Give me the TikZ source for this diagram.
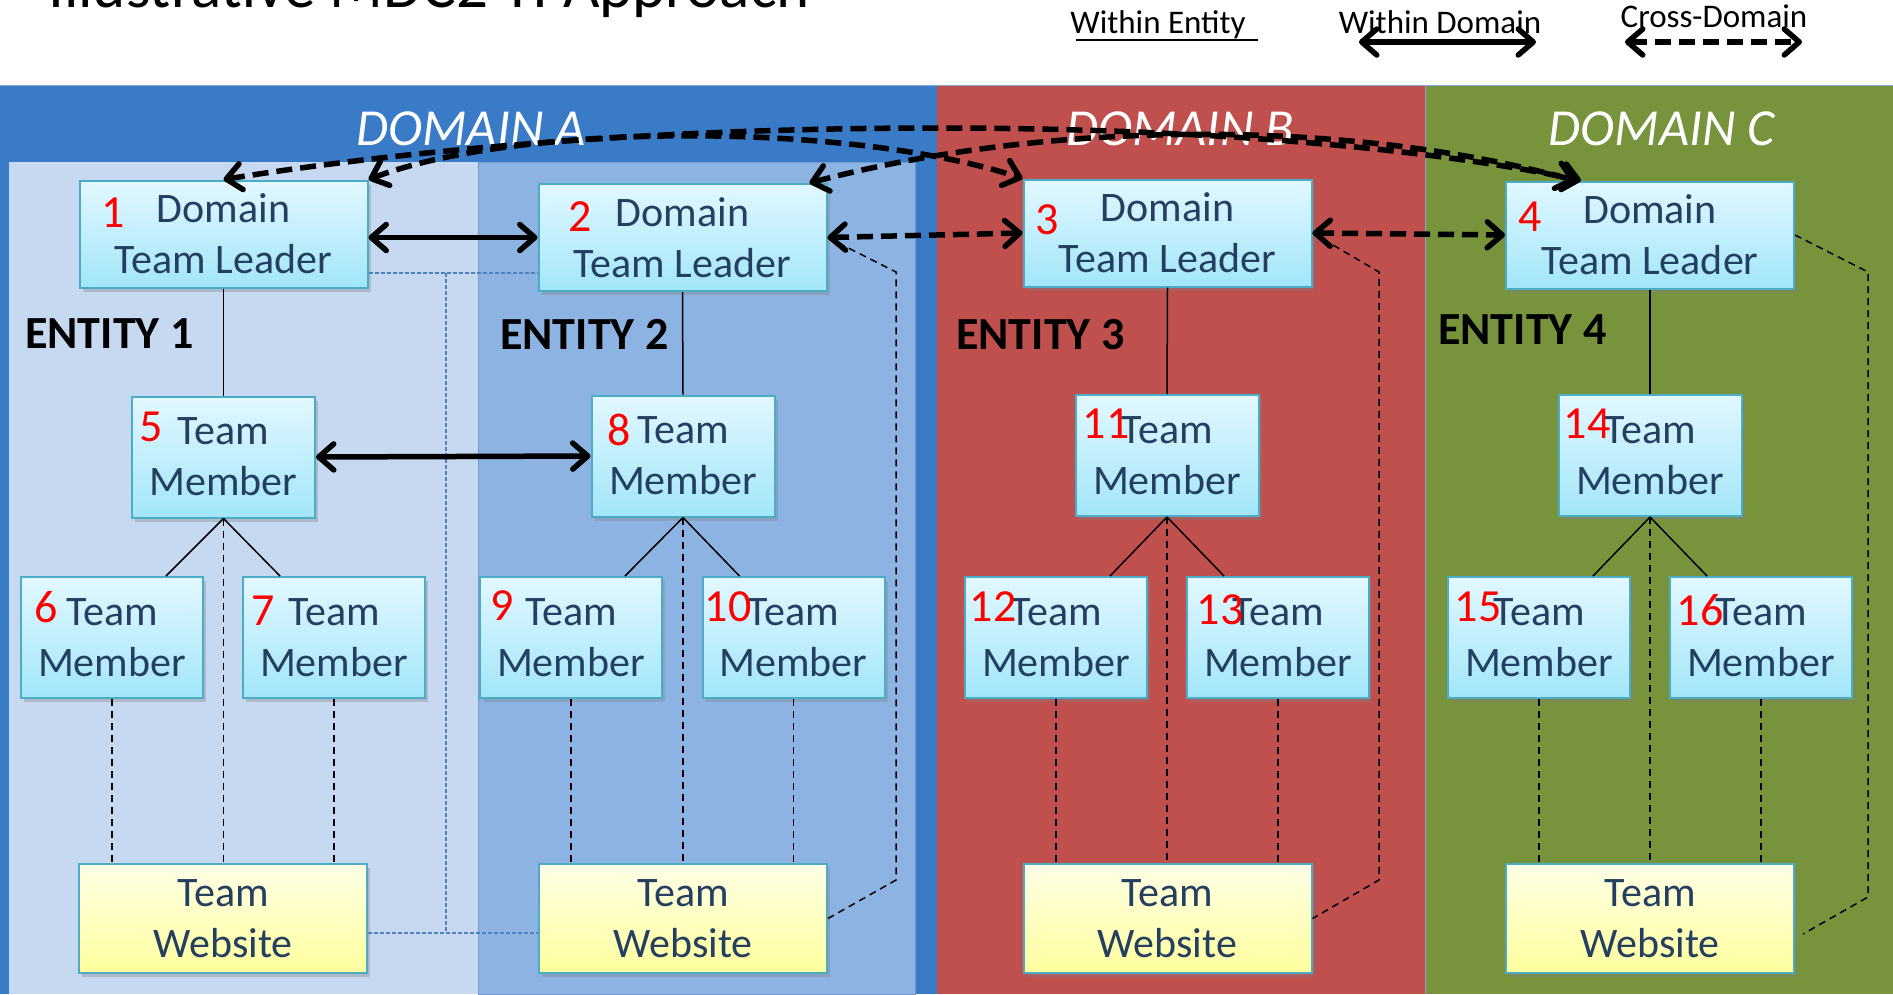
\documentclass[tikz,border=0pt]{standalone}
\usepackage{fontspec}
\setmainfont{Carlito}
\usetikzlibrary{arrows.meta,shadows}
\definecolor{domA}{HTML}{3A7BC8}
\definecolor{domB}{HTML}{C0504D}
\definecolor{domC}{HTML}{77933C}
\definecolor{entA}{HTML}{C6D9F1}
\definecolor{entB}{HTML}{8DB3E2}
\definecolor{boxborder}{HTML}{4BACC6}
\definecolor{boxtop}{HTML}{E2F8FF}
\definecolor{boxbot}{HTML}{A2E6FA}
\definecolor{sitetop}{HTML}{FFFFE6}
\definecolor{sitebot}{HTML}{FFFF9E}
\definecolor{boxtext}{HTML}{243F60}
\definecolor{hline}{HTML}{4F81BD}
\tikzset{
  box/.style={draw=boxborder, line width=2pt, top color=boxtop, bottom color=boxbot,
    text=boxtext, font=\fontsize{42}{51}\selectfont, align=center, inner sep=0pt,
    drop shadow={shadow xshift=3pt,shadow yshift=-4pt,opacity=.35}},
  leader/.style={box, minimum width=288pt, minimum height=107pt},
  member/.style={box, minimum width=182pt, minimum height=121pt},
  site/.style={box, top color=sitetop, bottom color=sitebot, minimum width=288pt, minimum height=109pt},
  num/.style={text=red, font=\fontsize{46}{46}\selectfont, inner sep=0pt},
  entity/.style={font=\bfseries\fontsize{46}{46}\selectfont, anchor=west, inner sep=0pt},
  dom/.style={text=white, font=\itshape\fontsize{52}{52}\selectfont, inner sep=0pt},
  legend/.style={font=\fontsize{33}{33}\selectfont, inner sep=0pt, anchor=base},
  tree/.style={line width=1.5pt},
  webline/.style={line width=1.5pt, dash pattern=on 7pt off 5pt},
  blueline/.style={draw=hline, line width=1.5pt, dash pattern=on 4pt off 2pt},
  solidarr/.style={line width=5.5pt, {Straight Barb[length=15pt,width=26pt,round]}-{Straight Barb[length=15pt,width=26pt,round]}},
  dasharr/.style={line width=5.5pt, dash pattern=on 16pt off 8pt, {Straight Barb[length=15pt,width=26pt,round]}-{Straight Barb[length=15pt,width=26pt,round]}}
}
\begin{document}
\begin{tikzpicture}[x=1pt,y=-1pt]
\useasboundingbox (0,0) rectangle (1893,994);
% backgrounds
\fill[white] (0,0) rectangle (1893,994);
\fill[domA] (0,85) rectangle (937,994);
\fill[entA] (8.6,162) rectangle (478,994);
\filldraw[fill=entB, draw=hline!80, line width=1pt] (478,162) rectangle (915,994);
\fill[domB] (937,85) rectangle (1425,994);
\fill[domC] (1425,85) rectangle (1893,994);
\draw[hline!70, line width=1pt] (0,85) -- (1893,85);
\draw[hline!70, line width=1pt] (1425,85) -- (1425,994);
% title and legend
\node[anchor=base west, font=\fontsize{63}{63}\selectfont, inner sep=0pt] (title) at (48,7) {Illustrative MDC2 TI Approach};
\node[legend] (lgE) at (1158,33) {Within Entity};
\node[legend] (lgD) at (1440,33) {Within Domain};
\node[legend] (lgC) at (1714,27) {Cross-Domain};
\coordinate (leA) at (1076,40); \coordinate (leB) at (1258,40);
\coordinate (ldA) at (1359,42); \coordinate (ldB) at (1536,42);
\coordinate (lcA) at (1625,42); \coordinate (lcB) at (1802,42);
\draw[line width=2pt] (leA) -- (leB);
\draw[solidarr] (ldA) -- (ldB);
\draw[dasharr] (lcA) -- (lcB);
% domain labels
\node[dom] (dA) at (471,129) {DOMAIN A};
\node[dom] (dB) at (1180,129) {DOMAIN B};
\node[dom] (dC) at (1662,129) {DOMAIN C};
% entity labels
\node[entity] (e1) at (25,334) {ENTITY 1};
\node[entity] (e2) at (500,334) {ENTITY 2};
\node[entity] (e3) at (956,335) {ENTITY 3};
\node[entity] (e4) at (1438,330) {ENTITY 4};
% nodes
\node[leader] (L1) at (223.5,234) {Domain\\Team Leader};
\node[leader] (L2) at (682.5,237.5) {Domain\\Team Leader};
\node[leader] (L3) at (1167.5,233) {Domain\\Team Leader};
\node[leader] (L4) at (1650,235) {Domain\\Team Leader};
\node[member, minimum width=183pt] (M5) at (223.5,457) {Team\\Member};
\node[member, minimum width=183pt] (M8) at (683,456) {Team\\Member};
\node[member, minimum width=183pt] (M11) at (1167,455.5) {Team\\Member};
\node[member, minimum width=183pt] (M14) at (1650,455.5) {Team\\Member};
\node[member] (M6) at (112,637.5) {Team\\Member};
\node[member] (M7) at (334,637.5) {Team\\Member};
\node[member] (M9) at (571,637.5) {Team\\Member};
\node[member] (M10) at (793.5,637.5) {Team\\Member};
\node[member] (M12) at (1056,637.5) {Team\\Member};
\node[member] (M13) at (1278,637.5) {Team\\Member};
\node[member] (M15) at (1539,637.5) {Team\\Member};
\node[member] (M16) at (1761,637.5) {Team\\Member};
\node[site] (W1) at (223,918.5) {Team\\Website};
\node[site] (W2) at (683,918.5) {Team\\Website};
\node[site] (W3) at (1167.5,918.5) {Team\\Website};
\node[site] (W4) at (1650,918.5) {Team\\Website};
% tree lines
\foreach \p/\a/\b in {M5/M6/M7, M8/M9/M10, M11/M12/M13, M14/M15/M16}{
  \draw[tree] (\p.south) -- ([xshift=54pt]\a.north);
  \draw[tree] (\p.south) -- ([xshift=-54pt]\b.north);
}
\foreach \l/\m in {L1/M5, L2/M8, L3/M11, L4/M14}{
  \draw[tree] (\l.south) -- (\m.north);
}
% website links
\foreach \m/\w in {M5/W1, M6/W1, M7/W1, M8/W2, M9/W2, M10/W2, M11/W3, M12/W3, M13/W3, M14/W4, M15/W4, M16/W4}{
  \draw[webline] (\m.south) -- (\m.south |- \w.north);
}
% brackets
\coordinate (b2a) at (896,272); \coordinate (b2b) at (896,880);
\coordinate (b3a) at (1379,272); \coordinate (b3b) at (1379,880);
\coordinate (b4a) at (1868,272); \coordinate (b4b) at (1868,897);
\coordinate (w4e) at (1803,934);
\draw[webline] (L2.east) -- (b2a) -- (b2b) -- (W2.east);
\draw[webline] (L3.east) -- (b3a) -- (b3b) -- (W3.east);
\draw[webline] (L4.east) -- (b4a) -- (b4b) -- (w4e);
% blue H link
\coordinate (h1) at (446,273); \coordinate (h2) at (446,933);
\draw[blueline] (L1.east |- h1) -- (L2.west |- h1);
\draw[blueline] (h1) -- (h2);
\draw[blueline] (W1.east |- h2) -- (W2.west |- h2);
% numbers
\node[num] (n1) at (113,213) {1};
\node[num] (n2) at (580,217) {2};
\node[num] (n3) at (1047,220) {3};
\node[num] (n4) at (1530,217) {4};
\node[num] (n5) at (151,427) {5};
\node[num] (n8) at (619,430) {8};
\node[num] (n11) at (1106,424) {11};
\node[num] (n14) at (1587,424) {14};
\node[num] (n6) at (46,607) {6};
\node[num] (n7) at (263,611) {7};
\node[num] (n9) at (502,606) {9};
\node[num] (n10) at (728,607) {10};
\node[num] (n12) at (993,607) {12};
\node[num] (n13) at (1220,610) {13};
\node[num] (n15) at (1478,607) {15};
\node[num] (n16) at (1700,610) {16};
% thick arrows
\draw[solidarr] (L1.east |- L2.west) -- (L2.west);
\draw[solidarr] (M5.east) -- (M8.west);
\draw[dasharr] (L2.east) -- (L3.west);
\draw[dasharr] (L3.east) -- (L4.west);
% curved cross-domain arrows
\draw[dasharr] (L1.north) .. controls (650,111) and (1250,111) .. ([xshift=-69pt]L4.north);
\draw[dasharr] (L1.north east) .. controls (520,122) and (850,122) .. (L3.north west);
\draw[dasharr] ([xshift=-18pt]L2.north east) .. controls (1050,119) and (1350,119) .. ([xshift=-75pt]L4.north);
\end{tikzpicture}
\end{document}
